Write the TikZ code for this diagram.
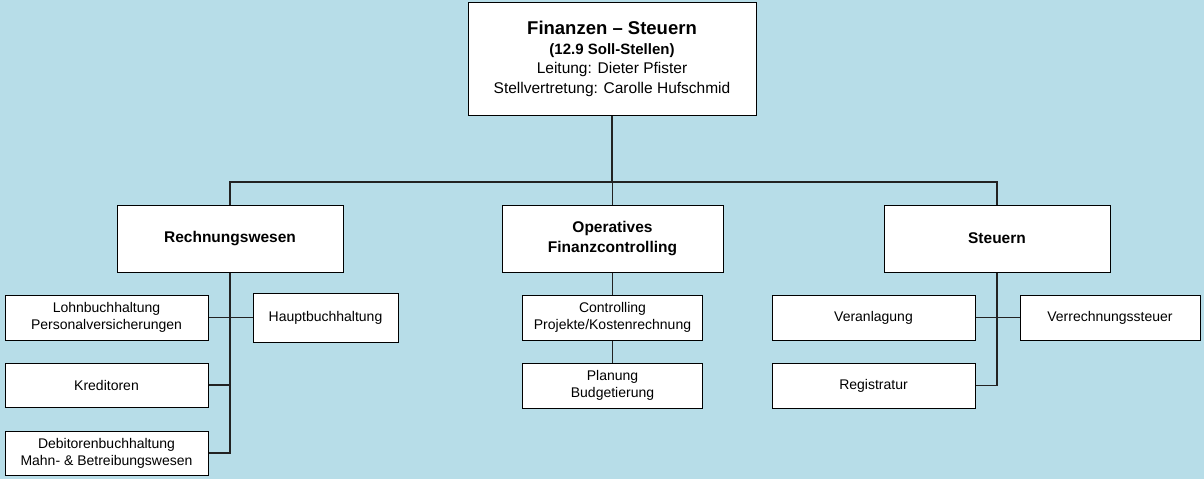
\documentclass[tikz,border=0pt]{standalone}
\usepackage{fontspec}
\setmainfont{Liberation Sans}
\definecolor{bgblue}{HTML}{B7DDE8}
\definecolor{linegray}{HTML}{222222}
\begin{document}
\begin{tikzpicture}[x=1pt,y=-1pt,
  box/.style={draw=black,line width=1pt,fill=white,rectangle,inner sep=0pt,align=center},
  headbox/.style={box,minimum width=226pt,minimum height=67pt,font=\fontsize{15.5}{19.5}\selectfont\bfseries},
  subbox/.style={box,minimum width=203pt,minimum height=45pt,font=\fontsize{14}{17}\selectfont},
  link/.style={draw=linegray,line width=1.4pt}]
% background
\fill[bgblue] (0,0) rectangle (1204,479);
\useasboundingbox (0,0) rectangle (1204,479);

% top unit
\node[box,minimum width=288pt,minimum height=113pt,font=\fontsize{15.5}{19.3}\selectfont] (top) at (612,58.5)
  {{\fontsize{18.5}{19}\selectfont\bfseries Finanzen – Steuern}\\[1pt]
   {\fontsize{15}{19}\selectfont\bfseries (12.9 Soll-Stellen)}\\
   Leitung: Dieter Pfister\\
   Stellvertretung: Carolle Hufschmid};

% divisions
\node[headbox] (rw) at (230,238.5) {Rechnungswesen};
\node[headbox,minimum width=221pt] (op) at (612.5,238.5) {Operatives\\Finanzcontrolling};
\node[headbox] (st) at (997,238.5) {Steuern};

% Rechnungswesen groups
\node[subbox] (lohn) at (106.5,317.5) {Lohnbuchhaltung\\Personalversicherungen};
\node[subbox,minimum width=145pt,minimum height=49pt] (haupt) at (325.5,317.5) {Hauptbuchhaltung};
\node[subbox,minimum height=44pt] (kred) at (106.5,385) {Kreditoren};
\node[subbox,minimum height=44pt] (deb) at (106.5,453) {Debitorenbuchhaltung\\Mahn- \& Betreibungswesen};

% Finanzcontrolling groups
\node[subbox,minimum width=180pt] (ctrl) at (612.5,317.5) {Controlling\\Projekte/Kostenrechnung};
\node[subbox,minimum width=180pt] (plan) at (612.5,385.5) {Planung\\Budgetierung};

% Steuern groups
\node[subbox] (veran) at (873.5,317.5) {Veranlagung};
\node[subbox,minimum width=180pt] (vst) at (1110,317.5) {Verrechnungssteuer};
\node[subbox] (reg) at (873.5,385.5) {Registratur};

% bus between top unit and divisions
\coordinate (bus) at (612,182);
\draw[link] (top.south) -- (top.south |- bus);
\draw[link] (rw.north) -- (rw.north |- bus) -- (st.north |- bus) -- (st.north);
\draw[link] (op.north) -- (op.north |- bus);

% Rechnungswesen spine
\draw[link] (rw.south) -- (rw.south |- deb.east) -- (deb.east);
\draw[link] (lohn.east) -- (haupt.west);
\draw[link] (kred.east) -- (kred.east -| rw.south);

% Finanzcontrolling chain
\draw[link] (op.south) -- (ctrl.north);
\draw[link] (ctrl.south) -- (plan.north);

% Steuern spine
\draw[link] (st.south) -- (st.south |- reg.east) -- (reg.east);
\draw[link] (veran.east) -- (vst.west);
\end{tikzpicture}
\end{document}
